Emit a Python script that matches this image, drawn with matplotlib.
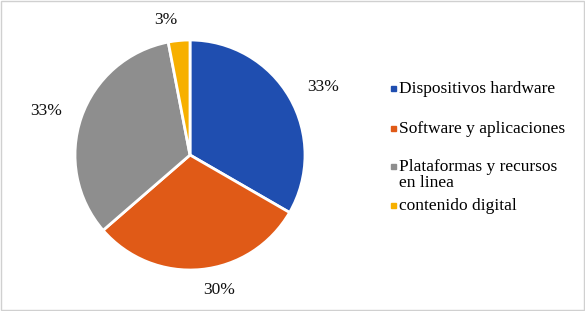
import matplotlib
matplotlib.use("Agg")
import matplotlib.pyplot as plt
from matplotlib.patches import Rectangle

categorias = ["Dispositivos hardware", "Software y aplicaciones",
              "Plataformas y recursos\nen linea", "contenido digital"]
valores = [33, 30, 33, 3]
etiquetas = ["33%", "30%", "33%", "3%"]
colores = ["#1f4eb0", "#e05a17", "#8e8e8e", "#f7b000"]

plt.rcParams['font.family'] = ['Liberation Serif', 'DejaVu Serif']

fig = plt.figure(figsize=(5.85, 3.11), dpi=100)
ax = fig.add_axes([75/585, 41/311, 230/585, 230/311])

wedges, texts = ax.pie(valores, labels=etiquetas, colors=colores, startangle=90,
                       counterclock=False, labeldistance=1.18,
                       wedgeprops=dict(edgecolor="white", linewidth=2),
                       textprops=dict(fontsize=12.5, color="#111111"))
ax.set_xlim(-1, 1)
ax.set_ylim(-1, 1)
ax.set_aspect("equal")

# leyenda dibujada a mano (marcador alineado con la primera linea)
ys = [88, 128, 166, 205]
for cat, col, y in zip(categorias, colores, ys):
    fig.add_artist(Rectangle((391/585, 1 - (y + 3)/311), 5/585, 5/311,
                             transform=fig.transFigure, color=col))
    fig.text(399/585, 1 - (y - 7)/311, cat, fontsize=12.5, va="top",
             ha="left", color="#000000", linespacing=1.0)

# borde del grafico
fig.add_artist(Rectangle((1/585, 1/311), 583/585, 309/311, transform=fig.transFigure,
                         fill=False, edgecolor="#d0d0d0", linewidth=1))

fig.savefig("out.png", dpi=100)
